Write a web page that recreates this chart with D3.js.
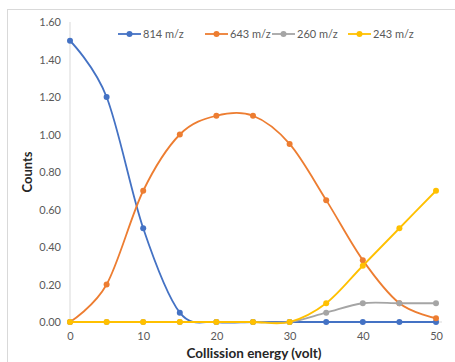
<!DOCTYPE html>
<html>
<head>
<meta charset="utf-8">
<script src="https://cdn.jsdelivr.net/npm/d3@7"></script>
<style>
  html, body { margin: 0; padding: 0; background: #fff; }
  svg { display: block; }
</style>
</head>
<body>
<svg id="chart" width="455" height="362"></svg>
<script>
// Collision energy (volt) on the x axis
const energy = [0, 5, 10, 15, 20, 25, 30, 35, 40, 45, 50];

// Counts per fragment ion
const mz814 = [1.50, 1.20, 0.50, 0.05, 0, 0, 0, 0, 0, 0, 0];
const mz643 = [0, 0.20, 0.70, 1.00, 1.10, 1.10, 0.95, 0.65, 0.33, 0.10, 0.02];
const mz260 = [0, 0, 0, 0, 0, 0, 0, 0.05, 0.10, 0.10, 0.10];
const mz243 = [0, 0, 0, 0, 0, 0, 0, 0.10, 0.30, 0.50, 0.70];

const seriesNames = ["814 m/z", "643 m/z", "260 m/z", "243 m/z"];
const seriesColors = ["#4472C4", "#ED7D31", "#A5A5A5", "#FFC000"];

const yTicks = [0, 0.2, 0.4, 0.6, 0.8, 1.0, 1.2, 1.4, 1.6];
const xTicks = [0, 10, 20, 30, 40, 50];

const series = [mz814, mz643, mz260, mz243].map((vals, i) => ({
  name: seriesNames[i],
  color: seriesColors[i],
  points: energy.map((e, j) => ({ x: e, y: vals[j] }))
}));

const svg = d3.select("#chart");
const font = "Lato, 'Open Sans', sans-serif";

// Chart frame
svg.append("rect")
  .attr("x", 7.5).attr("y", 9.5)
  .attr("width", 460).attr("height", 380)
  .attr("fill", "#fff")
  .attr("stroke", "#D9D9D9").attr("stroke-width", 1);

const x = d3.scaleLinear().domain([0, 50]).range([70, 436]);
const y = d3.scaleLinear().domain([0, 1.6]).range([322, 22]);

// Axis lines
svg.append("line")
  .attr("x1", x(0)).attr("x2", x(0))
  .attr("y1", y(1.6)).attr("y2", y(0))
  .attr("stroke", "#D9D9D9").attr("stroke-width", 1);
svg.append("line")
  .attr("x1", x(0)).attr("x2", 442)
  .attr("y1", y(0)).attr("y2", y(0))
  .attr("stroke", "#D9D9D9").attr("stroke-width", 1);

// Y tick labels
const yAxis = d3.axisLeft(y).tickValues(yTicks).tickSize(0).tickPadding(9)
  .tickFormat(d3.format(".2f"));
const gy = svg.append("g").attr("transform", `translate(${x(0)},0)`).call(yAxis);
gy.select(".domain").remove();
gy.selectAll("text").attr("fill", "#595959").attr("font-size", 11).attr("font-family", font);

// X tick labels
const xAxis = d3.axisBottom(x).tickValues(xTicks).tickSize(0).tickPadding(10);
const gx = svg.append("g").attr("transform", `translate(0,${y(0)})`).call(xAxis);
gx.select(".domain").remove();
gx.selectAll("text").attr("fill", "#595959").attr("font-size", 11).attr("font-family", font);

// Axis titles
svg.append("text")
  .attr("x", 254).attr("y", 358)
  .attr("text-anchor", "middle")
  .attr("font-family", font).attr("font-size", 13.5).attr("font-weight", "bold")
  .attr("fill", "#262626")
  .text("Collission energy (volt)");
svg.append("text")
  .attr("transform", `translate(32,${(y(0) + y(1.6)) / 2}) rotate(-90)`)
  .attr("text-anchor", "middle")
  .attr("font-family", font).attr("font-size", 13).attr("font-weight", "bold")
  .attr("fill", "#262626")
  .text("Counts");

// Smoothed lines with markers
const line = d3.line()
  .x(d => x(d.x)).y(d => y(d.y))
  .curve(d3.curveCardinal.tension(0));

series.forEach(s => {
  const g = svg.append("g");
  g.append("path")
    .attr("d", line(s.points))
    .attr("fill", "none")
    .attr("stroke", s.color)
    .attr("stroke-width", 1.8);
  g.selectAll("circle").data(s.points).join("circle")
    .attr("cx", d => x(d.x)).attr("cy", d => y(d.y))
    .attr("r", 3)
    .attr("fill", s.color);
});

// Legend
const legendX = [118, 205, 272, 348];
const legend = svg.append("g");
series.forEach((s, i) => {
  const lg = legend.append("g").attr("transform", `translate(${legendX[i]},34)`);
  lg.append("line").attr("x1", 0).attr("x2", 23).attr("y1", 0).attr("y2", 0)
    .attr("stroke", s.color).attr("stroke-width", 1.8);
  lg.append("circle").attr("cx", 11.5).attr("cy", 0).attr("r", 3).attr("fill", s.color);
  lg.append("text").attr("x", 25).attr("y", 4)
    .attr("font-family", font).attr("font-size", 11).attr("fill", "#595959")
    .text(s.name);
});
</script>
</body>
</html>
